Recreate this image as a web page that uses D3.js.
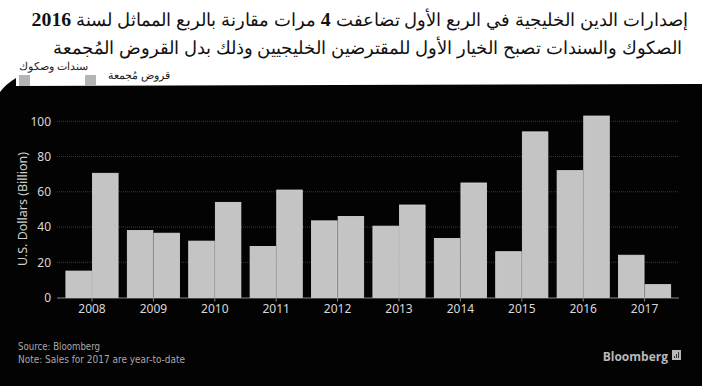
<!DOCTYPE html>
<html>
<head>
<meta charset="utf-8">
<script src="https://cdn.jsdelivr.net/npm/d3@7"></script>
<style>
  body { margin: 0; background: #fff; }
  svg { display: block; }
</style>
</head>
<body>
<div id="chart"></div>
<script>
// data
const years = ["2008", "2009", "2010", "2011", "2012", "2013", "2014", "2015", "2016", "2017"];
const bonds = [15, 38, 32, 29, 43.5, 40.5, 33.5, 26, 72, 24];
const loans = [70.5, 36.5, 54, 61, 46, 52.5, 65, 94, 103, 7.3];
const seriesNames = ["سندات وصكوك", "قروض مُجمعة"];
const yTicks = [0, 20, 40, 60, 80, 100];

const width = 702, height = 386;

let svg = d3.select("#chart").append("svg")
    .attr("width", width)
    .attr("height", height);

// background
// ------------------------------------------------------
svg.append("rect")
    .attr("width", width).attr("height", height)
    .attr("fill", "#fff");

svg.append("path")
    .attr("d", `M0,92 Q6,84 16,78 L16,86 L${width},84 L${width},${height} L0,${height} Z`)
    .attr("fill", "#030303");

// title
// ------------------------------------------------------
let title = svg.append("g")
    .attr("font-family", "Liberation Sans, Arial, sans-serif")
    .attr("fill", "#111");

let t1 = title.append("text")
    .attr("x", 688).attr("y", 26)
    .attr("direction", "rtl")
    .attr("font-size", 20);
t1.append("tspan").text("إصدارات الدين الخليجية في الربع الأول تضاعفت ");
t1.append("tspan").attr("class", "num").text("4");
t1.append("tspan").text(" مرات مقارنة بالربع المماثل لسنة ");
t1.append("tspan").attr("class", "num").text("2016");
t1.selectAll(".num")
    .attr("font-family", "Liberation Serif, serif")
    .attr("font-weight", "bold");

let t2 = title.append("text")
    .attr("x", 682).attr("y", 54)
    .attr("direction", "rtl")
    .attr("font-size", 20)
    .text("الصكوك والسندات تصبح الخيار الأول للمقترضين الخليجيين وذلك بدل القروض المُجمعة");

// fit each line to the width seen in the picture
[[t1, 655], [t2, 632]].forEach(([t, w]) => {
    let len = t.node().getComputedTextLength();
    let fs = 20 * w / len;
    t.attr("font-size", fs);
    t.selectAll(".num").attr("font-size", fs * 1.12);
});

// legend
// ------------------------------------------------------
let legend = svg.append("g");
legend.selectAll("rect")
    .data([19, 85])
    .enter().append("rect")
    .attr("x", d => d).attr("y", 75)
    .attr("width", 11).attr("height", 11)
    .attr("fill", "#b4b4b4");

legend.selectAll("text")
    .data(seriesNames)
    .enter().append("text")
    .attr("x", (d, i) => i === 0 ? 88 : 170)
    .attr("y", (d, i) => i === 0 ? 70 : 79)
    .attr("direction", "rtl")
    .attr("font-family", "Liberation Sans, Arial, sans-serif")
    .attr("font-size", 10.5)
    .attr("fill", "#222")
    .text(d => d);

// scales
// ------------------------------------------------------
let xScale = d3.scaleBand()
    .domain(years)
    .range([61.3, 675.3])
    .paddingInner(0.15)
    .paddingOuter(0.075);

let subScale = d3.scaleBand()
    .domain([0, 1])
    .range([0, xScale.bandwidth()])
    .paddingInner(0.04);

let yScale = d3.scaleLinear()
    .domain([0, 100])
    .range([297.5, 121.3]);

// grid + axes
// ------------------------------------------------------
svg.append("g")
    .selectAll("line")
    .data(yTicks.slice(1))
    .enter().append("line")
    .attr("x1", 57).attr("x2", 679)
    .attr("y1", d => yScale(d)).attr("y2", d => yScale(d))
    .attr("stroke", "#3a3a3a")
    .attr("stroke-dasharray", "1,1");

let leftAxis = svg.append("g")
    .attr("transform", "translate(57,0)")
    .call(d3.axisLeft(yScale).tickValues(yTicks).tickSize(0).tickPadding(6));
leftAxis.select(".domain").remove();
leftAxis.selectAll("text")
    .attr("fill", "#d8d8d8")
    .attr("font-family", "Noto Sans, sans-serif")
    .attr("font-size", 12);

let bottomAxis = svg.append("g")
    .attr("transform", `translate(0,${yScale(0)})`)
    .call(d3.axisBottom(xScale).tickSize(4).tickPadding(3).tickSizeOuter(0));
bottomAxis.select(".domain")
    .attr("d", "M57,0.5H679")
    .attr("stroke", "#888");
bottomAxis.selectAll(".tick line").attr("stroke", "#888");
bottomAxis.selectAll("text")
    .attr("fill", "#d8d8d8")
    .attr("font-family", "Noto Sans, sans-serif")
    .attr("font-size", 12);

svg.append("text")
    .attr("transform", "translate(27,209) rotate(-90)")
    .attr("text-anchor", "middle")
    .attr("fill", "#d0d0d0")
    .attr("font-family", "Noto Sans, sans-serif")
    .attr("font-size", 12.5)
    .text("U.S. Dollars (Billion)");

// bars
// ------------------------------------------------------
let rows = years.map((y, i) => ({ year: y, values: [bonds[i], loans[i]] }));

let groups = svg.append("g")
    .selectAll(".group")
    .data(rows)
    .enter().append("g")
    .attr("class", "group")
    .attr("transform", d => `translate(${xScale(d.year)},0)`);

groups.selectAll("rect")
    .data(d => d.values.map((v, k) => ({ k: k, v: v })))
    .enter().append("rect")
    .attr("x", d => subScale(d.k))
    .attr("width", subScale.bandwidth())
    .attr("y", d => yScale(d.v))
    .attr("height", d => yScale(0) - yScale(d.v))
    .attr("fill", "#c4c4c4")
    .attr("stroke", "#d6d6d6")
    .attr("stroke-width", 0.8);

// footer
// ------------------------------------------------------
let foot = svg.append("g")
    .attr("font-family", "DejaVu Sans, sans-serif")
    .attr("font-size", 11)
    .attr("fill", "#a8a8a8");
foot.append("text").attr("x", 18).attr("y", 350)
    .attr("textLength", 82).attr("lengthAdjust", "spacingAndGlyphs")
    .text("Source: Bloomberg");
foot.append("text").attr("x", 18).attr("y", 363)
    .attr("textLength", 167).attr("lengthAdjust", "spacingAndGlyphs")
    .text("Note: Sales for 2017 are year-to-date");

svg.append("text")
    .attr("x", 668).attr("y", 361)
    .attr("text-anchor", "end")
    .attr("font-family", "Open Sans, sans-serif")
    .attr("font-weight", "bold")
    .attr("font-size", 12)
    .attr("fill", "#b8b8b8")
    .text("Bloomberg");

let logo = svg.append("g").attr("transform", "translate(672,350)");
logo.append("rect").attr("width", 9).attr("height", 10).attr("fill", "#b8b8b8");
logo.selectAll("line")
    .data([2, 4, 6])
    .enter().append("line")
    .attr("x1", d => d + 0.5).attr("x2", d => d + 0.5)
    .attr("y1", 8).attr("y2", (d, i) => 6 - i * 2)
    .attr("stroke", "#333");
</script>
</body>
</html>
